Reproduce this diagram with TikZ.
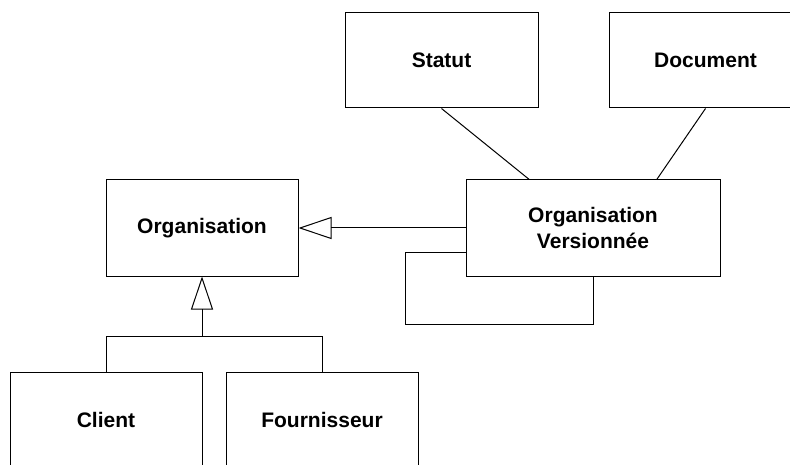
\documentclass[tikz,border=0pt]{standalone}
\usepackage{fontspec}
\setmainfont{Liberation Sans}
\usetikzlibrary{arrows.meta,calc}
\begin{document}
\begin{tikzpicture}[x=1pt,y=-1pt,line width=1pt,
  cls/.style={draw,rectangle,inner sep=0pt,minimum height=95pt,align=center,
    font=\fontsize{21}{26}\selectfont\bfseries},
  gen/.style={-{Triangle[open,length=33pt,width=22pt]}}]
\clip (0,0) rectangle (790,465);
\node[cls,minimum width=193pt] (statut) at (441.5,60.5) {Statut};
\node[cls,minimum width=193pt] (document) at (705.5,60.5) {Document};
\node[cls,minimum width=192pt,minimum height=96pt] (org) at (202,228) {Organisation};
\node[cls,minimum width=254pt,minimum height=96pt] (ov) at (593,228) {Organisation\\Versionnée};
\node[cls,minimum width=192pt] (client) at (106,419.5) {Client};
\node[cls,minimum width=192pt] (fourn) at (322,419.5) {Fournisseur};
\draw (statut.south) -- ($(ov.north west)!0.25!(ov.north east)$);
\draw (document.south) -- ($(ov.north west)!0.75!(ov.north east)$);
\draw[gen] (ov.west) -- (org.east);
\coordinate (la) at ($(ov.south west)!0.25!(ov.north west)$);
\draw (la) -- ++(-60,0) -- ++(0,72) -| (ov.south);
\coordinate (j) at (202,336);
\draw (client.north) |- (fourn.north |- j) -- (fourn.north);
\draw[gen] (j) -- (org.south);
\end{tikzpicture}
\end{document}
